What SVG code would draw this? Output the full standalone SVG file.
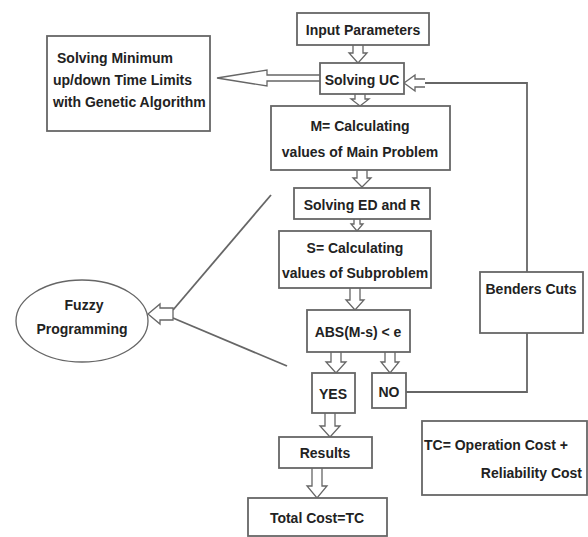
<svg xmlns="http://www.w3.org/2000/svg" width="588" height="537" viewBox="0 0 588 537">
<style>
.box{fill:#fff;stroke:#666;stroke-width:1.8}
.t{font-family:"Liberation Sans",Arial,sans-serif;font-weight:bold;font-size:14px;fill:#222;text-anchor:middle}
.ln{fill:none;stroke:#666;stroke-width:1.8}
.ha{fill:#fff;stroke:#666;stroke-width:1.3;stroke-linejoin:miter}
</style>
<rect width="588" height="537" fill="#fff"/>
<g id="connectors">
  <!-- hollow down arrows -->
  <path class="ha" d="M353,45 V53 H349 L358,63 L367,53 H363 V45"/>
  <path class="ha" d="M355,94 V99 H351 L360,106 L369,99 H365 V94"/>
  <path class="ha" d="M357,170 V178 H353 L362,187 L371,178 H367 V170"/>
  <path class="ha" d="M354,219 V224 H351 L357,231 L363,224 H360 V219"/>
  <path class="ha" d="M350,288 V300 H346 L355,310 L364,300 H360 V288"/>
  <path class="ha" d="M331,352 V362 H326 L336,373 L346,362 H341 V352"/>
  <path class="ha" d="M385,352 V362 H381 L390,373 L399,362 H395 V352"/>
  <path class="ha" d="M325,413 V426 H320 L330,437 L340,426 H335 V413"/>
  <path class="ha" d="M312,468 V486 H307 L317,498 L327,486 H322 V468"/>
  <!-- double arrow to left box -->
  <path class="ha" d="M320,75 H267 V70 L217,78 L267,86 V81 H320"/>
  <!-- feedback arrow into Solving UC -->
  <path class="ha" d="M425,79 H415 V75 L404,83 L415,91 V87 H425"/>
  <path class="ln" d="M425,83 H527 V272"/>
  <path class="ln" d="M527,333 V392 H406"/>
  <!-- fuzzy lines -->
  <path class="ln" d="M271,195 L173,310"/>
  <path class="ln" d="M173,318 L287,366"/>
  <path class="ha" d="M173,308 H160 V304 L148,314 L160,324 V320 H173 Z"/>
</g>
<g id="input"><rect class="box" x="297" y="13" width="132" height="32"/><text class="t" x="363" y="35">Input Parameters</text></g>
<g id="uc"><rect class="box" x="320" y="63" width="84" height="31"/><text class="t" x="362" y="85">Solving UC</text></g>
<g id="main"><rect class="box" x="271" y="106" width="179" height="64"/><text class="t" x="360" y="131">M= Calculating</text><text class="t" x="360" y="157">values of Main Problem</text></g>
<g id="ed"><rect class="box" x="294" y="188" width="136" height="31"/><text class="t" x="362" y="210">Solving ED and  R</text></g>
<g id="sub"><rect class="box" x="279" y="231" width="152" height="57"/><text class="t" x="355" y="253">S= Calculating</text><text class="t" x="355" y="278">values of Subproblem</text></g>
<g id="abs"><rect class="box" x="307" y="310" width="103" height="42"/><text class="t" x="358" y="337">ABS(M-s) &lt; e</text></g>
<g id="yes"><rect class="box" x="312" y="373" width="43" height="40"/><text class="t" x="333" y="399">YES</text></g>
<g id="no"><rect class="box" x="372" y="373" width="34" height="35"/><text class="t" x="389" y="397">NO</text></g>
<g id="results"><rect class="box" x="279" y="437" width="93" height="31"/><text class="t" x="325" y="458">Results</text></g>
<g id="total"><rect class="box" x="248" y="498" width="139" height="38"/><text class="t" x="317" y="523">Total Cost=TC</text></g>
<g id="tc"><rect class="box" x="422" y="421" width="165" height="74"/><text class="t" x="424" y="450" style="text-anchor:start">TC= Operation Cost +</text><text class="t" x="582" y="478" style="text-anchor:end">Reliability  Cost</text></g>
<g id="benders"><rect class="box" x="480" y="272" width="103" height="61"/><text class="t" x="531" y="294">Benders Cuts</text></g>
<g id="ga"><rect class="box" x="47" y="36" width="163" height="95"/><text class="t" x="57" y="63" style="text-anchor:start">Solving Minimum</text><text class="t" x="53" y="85" style="text-anchor:start">up/down Time Limits</text><text class="t" x="53" y="107" style="text-anchor:start">with Genetic Algorithm</text></g>
<g id="fuzzy"><ellipse class="box" cx="82" cy="321" rx="66" ry="41" style="stroke-width:1.3"/><text class="t" x="84" y="310">Fuzzy</text><text class="t" x="82" y="334">Programming</text></g>
</svg>
